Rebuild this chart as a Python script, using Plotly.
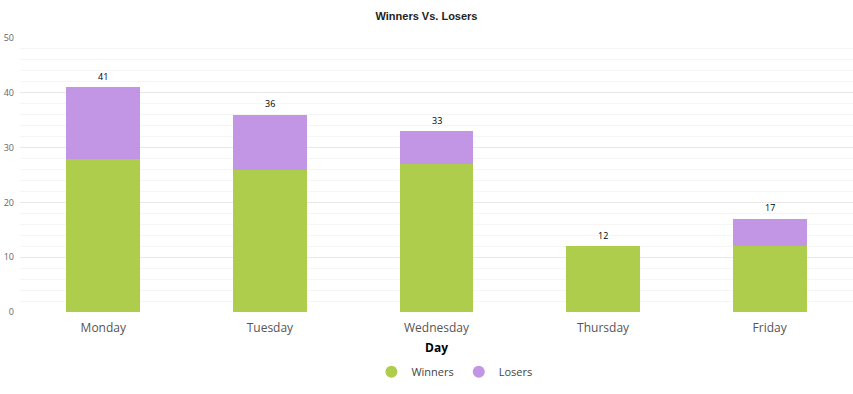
import plotly.graph_objects as go

days = ["Monday", "Tuesday", "Wednesday", "Thursday", "Friday"]
winners = [28, 26, 27, 12, 12]
losers = [13, 10, 6, 0, 5]
totals = [w + l for w, l in zip(winners, losers)]

green = "rgb(174,205,76)"
purple = "rgb(195,150,229)"

fig = go.Figure()
fig.add_trace(go.Bar(x=days, y=winners, name="Winners", marker=dict(color=green, line=dict(width=0)),
                     showlegend=False, hoverinfo="skip"))
fig.add_trace(go.Bar(x=days, y=losers, name="Losers", marker=dict(color=purple, line=dict(width=0)),
                     showlegend=False, hoverinfo="skip"))
for d, t in zip(days, totals):
    fig.add_annotation(x=d, y=t, text=str(t), showarrow=False, yshift=11,
                       font=dict(size=9, color="#000", family="Open Sans"))
# legend entries with circle symbols
fig.add_trace(go.Scatter(x=[None], y=[None], mode="markers", name="Winners",
                         marker=dict(symbol="circle", size=12, color=green)))
fig.add_trace(go.Scatter(x=[None], y=[None], mode="markers", name="Losers",
                         marker=dict(symbol="circle", size=12, color=purple)))

fig.update_layout(
    width=853, height=394,
    margin=dict(l=20, r=0, t=38, b=82),
    paper_bgcolor="white", plot_bgcolor="white",
    barmode="stack", bargap=0.557,
    title=dict(text="<b>Winners Vs. Losers</b>", x=0.5, xanchor="center", y=1 - 16/394, yanchor="middle",
               font=dict(size=11, color="#222", family="Liberation Sans")),
    showlegend=True,
    legend=dict(orientation="h", x=0.5215, xanchor="center", y=-0.165, yanchor="top", traceorder="normal",
                font=dict(size=11, color="#444", family="Open Sans"), itemsizing="constant",
                itemwidth=30, tracegroupgap=0),
    xaxis=dict(title=dict(text="<b>Day</b>", font=dict(size=12, color="#000", family="Open Sans"), standoff=8),
               tickfont=dict(size=12, color="#555", family="Open Sans"), ticklabelstandoff=7,
               showgrid=False, showline=False, zeroline=False, ticks="", automargin=False),
    yaxis=dict(range=[0, 50], dtick=10, tickfont=dict(size=9, color="#666", family="Open Sans"),
               gridcolor="#e8e8e8", gridwidth=1, zeroline=False, showline=False, ticks="",
               ticklabelstandoff=5,
               minor=dict(dtick=2, showgrid=True, gridcolor="#f5f5f5", gridwidth=1),
               automargin=False),
)

fig.write_html("out.html", config={"displayModeBar": False})
with open("out.html", "r", encoding="utf-8") as f:
    html = f.read()
html = html.replace("<body>", '<body style="margin:0;padding:0;overflow:hidden">', 1)
with open("out.html", "w", encoding="utf-8") as f:
    f.write(html)
